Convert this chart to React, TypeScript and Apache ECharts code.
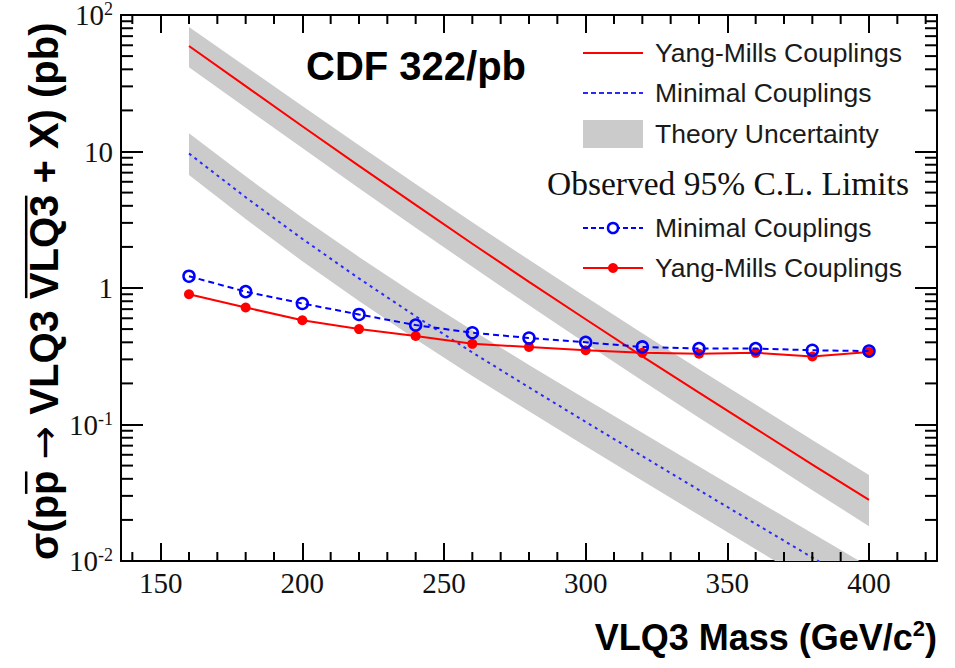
import { useEffect, useRef } from 'react';
import * as echarts from 'echarts';

// Mass points (GeV/c^2) at which the predictions and limits are given
const massGeV = [160, 180, 200, 220, 240, 260, 280, 300, 320, 340, 360, 380, 400];

// Theory cross sections (pb) with their uncertainty bands
const ymTheory = [59.3, 30.1, 15.3, 7.85, 4.06, 2.11, 1.11, 0.59, 0.316, 0.171, 0.0933, 0.0509, 0.028];
const ymTheoryHigh = [81.8, 42.0, 21.5, 11.1, 5.78, 3.03, 1.61, 0.861, 0.466, 0.254, 0.14, 0.0769, 0.0427];
const ymTheoryLow = [41.5, 20.9, 10.6, 5.38, 2.76, 1.43, 0.746, 0.394, 0.209, 0.112, 0.061, 0.033, 0.018];

const minTheory = [9.66, 4.62, 2.29, 1.175, 0.621, 0.337, 0.187, 0.1045, 0.0587, 0.0331, 0.0187, 0.0106, 0.006];
const minTheoryHigh = [13.6, 6.58, 3.27, 1.69, 0.897, 0.491, 0.273, 0.154, 0.0869, 0.0493, 0.028, 0.016, 0.0091];
const minTheoryLow = [6.73, 3.2, 1.57, 0.802, 0.421, 0.227, 0.125, 0.0693, 0.0387, 0.0217, 0.0122, 0.00684, 0.00385];

// Observed 95% C.L. upper limits (pb)
const minObserved = [1.22, 0.94, 0.77, 0.64, 0.535, 0.47, 0.43, 0.4, 0.37, 0.36, 0.36, 0.35, 0.345];
const ymObserved = [0.9, 0.72, 0.58, 0.5, 0.445, 0.39, 0.37, 0.35, 0.335, 0.33, 0.335, 0.315, 0.34];

// Axis ticks
const xMajorTicks = [150, 200, 250, 300, 350, 400];
const xMinorTicks = [140, 160, 170, 180, 190, 210, 220, 230, 240, 260, 270, 280, 290, 310, 320, 330, 340, 360, 370, 380, 390, 410, 420];
const yMinorTicks = [
  0.02, 0.03, 0.04, 0.05, 0.06, 0.07, 0.08, 0.09,
  0.2, 0.3, 0.4, 0.5, 0.6, 0.7, 0.8, 0.9,
  2, 3, 4, 5, 6, 7, 8, 9,
  20, 30, 40, 50, 60, 70, 80, 90,
];

const X_MIN = 136;
const X_MAX = 424;
const Y_MIN = 0.01;
const Y_MAX = 100;

const RED = '#ff0000';
const BLUE = '#0000ff';
const BLUE_THEORY = '#2a2aff';
const BAND = '#cbcbcb';
const INK = '#111111';
const SERIF = '"Liberation Serif", "Times New Roman", serif';
const SANS = '"Liberation Sans", Arial, Helvetica, sans-serif';
const ARROW_FONT = '"DejaVu Sans", sans-serif';

const pairs = (ys: number[]) => massGeV.map((m, i) => [m, ys[i]]);

function bandSeries(name: string, high: number[], low: number[]) {
  return {
    type: 'custom',
    name,
    coordinateSystem: 'cartesian2d',
    clip: true,
    silent: true,
    z: 1,
    data: [[massGeV[0], high[0]]],
    renderItem: (_params: any, api: any) => {
      const upper = massGeV.map((m, i) => api.coord([m, high[i]]));
      const lower = massGeV.map((m, i) => api.coord([m, low[i]])).reverse();
      return {
        type: 'polygon',
        shape: { points: upper.concat(lower) },
        style: { fill: BAND },
      };
    },
  };
}

function decadeLabel(v: number) {
  const e = Math.round(Math.log10(v));
  if (e === 0) return '{b|1}';
  if (e === 1) return '{b|10}';
  return `{b|10}{s|${e}}`;
}

function textWidth(text: string, font: string) {
  const ctx = document.createElement('canvas').getContext('2d');
  if (!ctx) return text.length * 20;
  ctx.font = font;
  return ctx.measureText(text).width;
}

const axisLine = { show: true, lineStyle: { color: '#000', width: 2 } };
const tickStyle = { color: '#000', width: 2 };

function buildOption() {
  return {
    animation: false,
    backgroundColor: '#ffffff',
    textStyle: { fontFamily: SANS },
    grid: { left: 121, right: 18, top: 15, bottom: 107, containLabel: false },
    xAxis: [
      {
        type: 'value',
        min: X_MIN,
        max: X_MAX,
        position: 'bottom',
        axisLine,
        splitLine: { show: false },
        axisTick: { show: true, inside: true, length: 18, customValues: xMajorTicks, lineStyle: tickStyle },
        axisLabel: {
          customValues: xMajorTicks,
          formatter: (v: number) => `{n|${v}}`,
          margin: 7,
          rich: {
            n: { fontFamily: SERIF, fontSize: 29, color: INK, lineHeight: 30 },
          },
        },
      },
      {
        type: 'value',
        min: X_MIN,
        max: X_MAX,
        position: 'top',
        axisLine,
        splitLine: { show: false },
        axisTick: { show: true, inside: true, length: 18, customValues: xMajorTicks, lineStyle: tickStyle },
        axisLabel: { show: false },
      },
    ],
    yAxis: [
      {
        type: 'log',
        logBase: 10,
        min: Y_MIN,
        max: Y_MAX,
        position: 'left',
        axisLine,
        splitLine: { show: false },
        axisTick: { show: true, inside: true, length: 22, lineStyle: tickStyle },
        axisLabel: {
          formatter: decadeLabel,
          margin: 8,
          rich: {
            b: { fontFamily: SERIF, fontSize: 29, color: INK, lineHeight: 30 },
            s: { fontFamily: SERIF, fontSize: 18, color: INK, lineHeight: 14, verticalAlign: 'top' },
          },
        },
      },
      {
        type: 'log',
        logBase: 10,
        min: Y_MIN,
        max: Y_MAX,
        position: 'right',
        axisLine,
        splitLine: { show: false },
        axisTick: { show: true, inside: true, length: 22, lineStyle: tickStyle },
        axisLabel: { show: false },
      },
    ],
    series: [
      bandSeries('Theory Uncertainty (Yang-Mills)', ymTheoryHigh, ymTheoryLow),
      bandSeries('Theory Uncertainty (Minimal)', minTheoryHigh, minTheoryLow),
      {
        type: 'line',
        name: 'Yang-Mills Couplings (theory)',
        data: pairs(ymTheory),
        showSymbol: false,
        clip: true,
        z: 3,
        lineStyle: { color: RED, width: 2 },
      },
      {
        type: 'line',
        name: 'Minimal Couplings (theory)',
        data: pairs(minTheory),
        showSymbol: false,
        clip: true,
        z: 3,
        lineStyle: { color: BLUE_THEORY, width: 2, type: [3, 4] },
      },
      {
        type: 'line',
        name: 'Yang-Mills Couplings (observed)',
        data: pairs(ymObserved),
        symbol: 'circle',
        symbolSize: 10,
        z: 4,
        lineStyle: { color: RED, width: 2 },
        itemStyle: { color: RED },
      },
      {
        type: 'line',
        name: 'Minimal Couplings (observed)',
        data: pairs(minObserved),
        symbol: 'circle',
        symbolSize: 11,
        z: 5,
        lineStyle: { color: BLUE, width: 2, type: [6, 4] },
        itemStyle: { color: 'rgba(0,0,0,0)', borderColor: BLUE, borderWidth: 2.5 },
      },
    ],
  };
}

function legendGraphics() {
  const x1 = 583;
  const x2 = 643;
  const tx = 655;
  const items: any[] = [];
  const label = (y: number, text: string) => ({
    type: 'text',
    z: 100,
    style: { text, x: tx, y, fontFamily: SANS, fontSize: 26.5, fill: '#1a1a1a', align: 'left', verticalAlign: 'middle' },
  });
  items.push({ type: 'line', z: 100, shape: { x1, y1: 53, x2, y2: 53 }, style: { stroke: RED, lineWidth: 2 } });
  items.push(label(53, 'Yang-Mills Couplings'));
  items.push({ type: 'line', z: 100, shape: { x1, y1: 93, x2, y2: 93 }, style: { stroke: BLUE_THEORY, lineWidth: 2, lineDash: [5, 3] } });
  items.push(label(93, 'Minimal Couplings'));
  items.push({ type: 'rect', z: 100, shape: { x: x1, y: 120, width: x2 - x1, height: 28 }, style: { fill: BAND } });
  items.push(label(134, 'Theory Uncertainty'));
  items.push({
    type: 'text',
    z: 100,
    style: { text: 'Observed 95% C.L. Limits', x: 547, y: 183, fontFamily: SERIF, fontSize: 33.5, fill: '#111', align: 'left', verticalAlign: 'middle' },
  });
  items.push({ type: 'line', z: 100, shape: { x1, y1: 228, x2, y2: 228 }, style: { stroke: BLUE, lineWidth: 2, lineDash: [5, 3] } });
  items.push({ type: 'circle', z: 101, shape: { cx: (x1 + x2) / 2, cy: 228, r: 5 }, style: { fill: '#fff', stroke: BLUE, lineWidth: 2.5 } });
  items.push(label(228, 'Minimal Couplings'));
  items.push({ type: 'line', z: 100, shape: { x1, y1: 268, x2, y2: 268 }, style: { stroke: RED, lineWidth: 2 } });
  items.push({ type: 'circle', z: 101, shape: { cx: (x1 + x2) / 2, cy: 268, r: 5 }, style: { fill: RED } });
  items.push(label(268, 'Yang-Mills Couplings'));
  return items;
}

// Rotated axis title: sigma(p pbar -> VLQ3 VLQ3bar + X) (pb), bars drawn as lines
function yTitleGraphic() {
  const size = 40;
  const font = `bold ${size}px ${SANS}`;
  const arrowFont = `normal ${size}px ${ARROW_FONT}`;
  const pre = 'σ(p';
  const barP = 'p';
  const gap = ' ';
  const arrow = '→';
  const tail1 = ' VLQ3 ';
  const barV = 'VLQ3';
  const tail2 = ' + X) (pb)';
  const p0 = textWidth(pre, font);
  const p1 = p0 + textWidth(barP, font);
  const a1 = p1 + textWidth(gap, font) + textWidth(arrow, arrowFont);
  const v0 = a1 + textWidth(tail1, font);
  const v1 = v0 + textWidth(barV, font);
  const barY = -0.37 * size - 3;
  const rich = {
    m: { fontFamily: SANS, fontWeight: 'bold', fontSize: size, fill: '#000', lineHeight: 44 },
    a: { fontFamily: ARROW_FONT, fontWeight: 'normal', fontSize: size, fill: '#000', lineHeight: 44 },
  };
  return {
    type: 'group',
    x: 44,
    y: 560,
    rotation: Math.PI / 2,
    z: 100,
    children: [
      {
        type: 'text',
        style: {
          text: `{m|${pre}${barP}${gap}}{a|${arrow}}{m|${tail1}${barV}${tail2}}`,
          x: 0,
          y: 0,
          rich,
          align: 'left',
          verticalAlign: 'middle',
        },
      },
      { type: 'line', shape: { x1: p0 + 1, y1: barY, x2: p1 - 1, y2: barY }, style: { stroke: '#000', lineWidth: 2.5 } },
      { type: 'line', shape: { x1: v0 + 1, y1: barY, x2: v1 - 1, y2: barY }, style: { stroke: '#000', lineWidth: 2.5 } },
    ],
  };
}

export default function App() {
  const ref = useRef<HTMLDivElement>(null);

  useEffect(() => {
    const el = ref.current;
    if (!el) return;
    const chart = echarts.init(el, null, { renderer: 'svg' });
    chart.setOption(buildOption() as any);

    const xp = (v: number) => chart.convertToPixel({ xAxisIndex: 0 }, v) as number;
    const yp = (v: number) => chart.convertToPixel({ yAxisIndex: 0 }, v) as number;
    const left = xp(X_MIN);
    const right = xp(X_MAX);
    const bottom = yp(Y_MIN);
    const top = yp(Y_MAX);

    const tick = (x1: number, y1: number, x2: number, y2: number) => ({
      type: 'line',
      z: 50,
      shape: { x1, y1, x2, y2 },
      style: { stroke: '#000', lineWidth: 2 },
    });

    const minorTicks: any[] = [];
    xMinorTicks.forEach((v) => {
      const px = xp(v);
      minorTicks.push(tick(px, bottom, px, bottom - 9));
      minorTicks.push(tick(px, top, px, top + 9));
    });
    yMinorTicks.forEach((v) => {
      const py = yp(v);
      minorTicks.push(tick(left, py, left + 12, py));
      minorTicks.push(tick(right, py, right - 12, py));
    });

    chart.setOption({
      graphic: [
        ...minorTicks,
        ...legendGraphics(),
        {
          type: 'text',
          z: 100,
          style: { text: 'CDF 322/pb', x: 306, y: 66, fontFamily: SANS, fontWeight: 'bold', fontSize: 40, fill: '#000', align: 'left', verticalAlign: 'middle' },
        },
        {
          type: 'text',
          z: 100,
          style: {
            text: '{t|VLQ3 Mass (GeV/c}{s|2}{t|)}',
            x: 937,
            y: 637,
            align: 'right',
            verticalAlign: 'middle',
            rich: {
              t: { fontFamily: SANS, fontWeight: 'bold', fontSize: 36, fill: '#000', lineHeight: 40 },
              s: { fontFamily: SANS, fontWeight: 'bold', fontSize: 22, fill: '#000', lineHeight: 22, verticalAlign: 'top' },
            },
          },
        },
        yTitleGraphic(),
      ],
    } as any);

    return () => chart.dispose();
  }, []);

  return <div ref={ref} style={{ position: 'fixed', left: 0, top: 0, width: 955, height: 668 }} />;
}
